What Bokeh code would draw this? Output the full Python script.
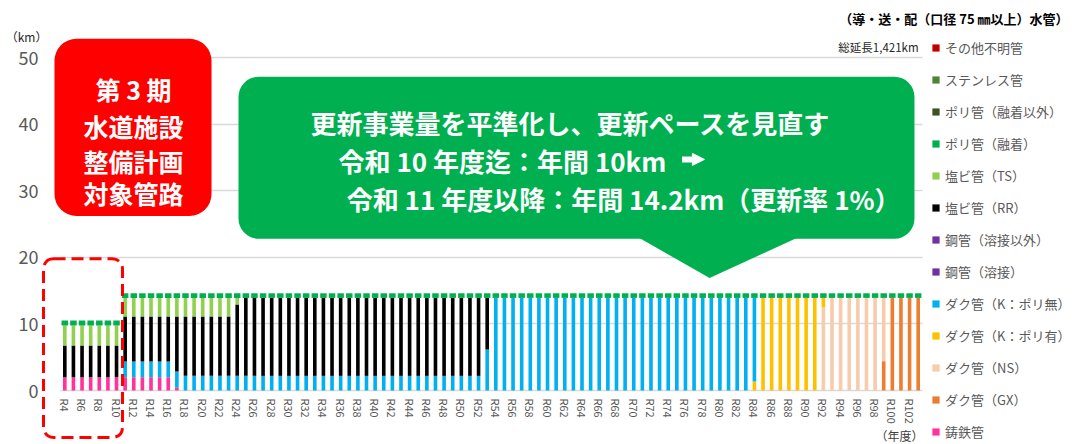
import math
from bokeh.plotting import figure
from bokeh.models import (FixedTicker, Legend, LegendItem, BoxAnnotation,
                          PolyAnnotation, Label, Range1d, Grid, Arrow, NormalHead)
from bokeh.embed import file_html
from bokeh.resources import INLINE

FONT = "Noto Sans CJK JP"

# ---- data (km per year, R4 .. R103) ----
years = list(range(4, 104))
tick_years = list(range(4, 103, 2))
tick_labels = ["R%d" % y for y in tick_years]
y_ticks = [0, 10, 20, 30, 40, 50]

zeros = [0.0] * 100

cast_iron = [2.0, 2.0, 2.0, 2.0, 2.0, 2.0, 2.0, 2.0, 2.0, 2.0,
             2.0, 2.0, 2.0, 0.4, 0, 0, 0, 0, 0, 0,
             0, 0, 0, 0, 0, 0, 0, 0, 0, 0,
             0, 0, 0, 0, 0, 0, 0, 0, 0, 0,
             0, 0, 0, 0, 0, 0, 0, 0, 0, 0,
             0, 0, 0, 0, 0, 0, 0, 0, 0, 0,
             0, 0, 0, 0, 0, 0, 0, 0, 0, 0,
             0, 0, 0, 0, 0, 0, 0, 0, 0, 0,
             0, 0, 0, 0, 0, 0, 0, 0, 0, 0,
             0, 0, 0, 0, 0, 0, 0, 0, 0, 0]
duct_gx = [0, 0, 0, 0, 0, 0, 0, 0, 0, 0,
           0, 0, 0, 0, 0, 0, 0, 0, 0, 0,
           0, 0, 0, 0, 0, 0, 0, 0, 0, 0,
           0, 0, 0, 0, 0, 0, 0, 0, 0, 0,
           0, 0, 0, 0, 0, 0, 0, 0, 0, 0,
           0, 0, 0, 0, 0, 0, 0, 0, 0, 0,
           0, 0, 0, 0, 0, 0, 0, 0, 0, 0,
           0, 0, 0, 0, 0, 0, 0, 0, 0, 0,
           0, 0, 0, 0, 0, 0, 0, 0, 0, 0,
           0, 0, 0, 0, 0, 4.4, 13.9, 13.9, 13.9, 13.9]
duct_ns = [0, 0, 0, 0, 0, 0, 0, 0, 0, 0,
           0, 0, 0, 0, 0, 0, 0, 0, 0, 0,
           0, 0, 0, 0, 0, 0, 0, 0, 0, 0,
           0, 0, 0, 0, 0, 0, 0, 0, 0, 0,
           0, 0, 0, 0, 0, 0, 0, 0, 0, 0,
           0, 0, 0, 0, 0, 0, 0, 0, 0, 0,
           0, 0, 0, 0, 0, 0, 0, 0, 0, 0,
           0, 0, 0, 0, 0, 0, 0, 0, 0, 0,
           0, 0, 0, 0, 0, 0, 0, 0, 12.5, 13.9,
           13.9, 13.9, 13.9, 13.9, 13.9, 9.5, 0, 0, 0, 0]
duct_k_poly = [0, 0, 0, 0, 0, 0, 0, 0, 0, 0,
               0, 0, 0, 0, 0, 0, 0, 0, 0, 0,
               0, 0, 0, 0, 0, 0, 0, 0, 0, 0,
               0, 0, 0, 0, 0, 0, 0, 0, 0, 0,
               0, 0, 0, 0, 0, 0, 0, 0, 0, 0,
               0, 0, 0, 0, 0, 0, 0, 0, 0, 0,
               0, 0, 0, 0, 0, 0, 0, 0, 0, 0,
               0, 0, 0, 0, 0, 0, 0, 0, 0, 0,
               1.35, 13.9, 13.9, 13.9, 13.9, 13.9, 13.9, 13.9, 1.4, 0,
               0, 0, 0, 0, 0, 0, 0, 0, 0, 0]
duct_k_nopoly = [0, 0, 0, 0, 0, 0, 0, 2.35, 2.35, 2.35,
                 2.35, 2.35, 2.35, 2.45, 2.2, 2.2, 2.2, 2.2, 2.2, 2.2,
                 2.2, 2.2, 2.2, 2.2, 2.2, 2.2, 2.2, 2.2, 2.2, 2.2,
                 2.2, 2.2, 2.2, 2.2, 2.2, 2.2, 2.2, 2.2, 2.2, 2.2,
                 2.2, 2.2, 2.2, 2.2, 2.2, 2.2, 2.2, 2.2, 2.2, 6.15,
                 13.9, 13.9, 13.9, 13.9, 13.9, 13.9, 13.9, 13.9, 13.9, 13.9,
                 13.9, 13.9, 13.9, 13.9, 13.9, 13.9, 13.9, 13.9, 13.9, 13.9,
                 13.9, 13.9, 13.9, 13.9, 13.9, 13.9, 13.9, 13.9, 13.9, 13.9,
                 12.55, 0, 0, 0, 0, 0, 0, 0, 0, 0,
                 0, 0, 0, 0, 0, 0, 0, 0, 0, 0]
steel_weld = zeros
steel_other = zeros
pvc_rr = [4.75, 4.75, 4.75, 4.75, 4.75, 4.75, 4.75, 6.75, 6.75, 6.75,
          6.75, 6.75, 6.75, 8.25, 8.9, 8.9, 8.9, 8.9, 8.9, 8.9,
          10.7, 11.7, 11.7, 11.7, 11.7, 11.7, 11.7, 11.7, 11.7, 11.7,
          11.7, 11.7, 11.7, 11.7, 11.7, 11.7, 11.7, 11.7, 11.7, 11.7,
          11.7, 11.7, 11.7, 11.7, 11.7, 11.7, 11.7, 11.7, 11.7, 7.75,
          0, 0, 0, 0, 0, 0, 0, 0, 0, 0,
          0, 0, 0, 0, 0, 0, 0, 0, 0, 0,
          0, 0, 0, 0, 0, 0, 0, 0, 0, 0,
          0, 0, 0, 0, 0, 0, 0, 0, 0, 0,
          0, 0, 0, 0, 0, 0, 0, 0, 0, 0]
pvc_ts = [3.0, 3.0, 3.0, 3.0, 3.0, 3.0, 3.0, 2.8, 2.8, 2.8,
          2.8, 2.8, 2.8, 2.8, 2.8, 2.8, 2.8, 2.8, 2.8, 2.8,
          1.0, 0, 0, 0, 0, 0, 0, 0, 0, 0,
          0, 0, 0, 0, 0, 0, 0, 0, 0, 0,
          0, 0, 0, 0, 0, 0, 0, 0, 0, 0,
          0, 0, 0, 0, 0, 0, 0, 0, 0, 0,
          0, 0, 0, 0, 0, 0, 0, 0, 0, 0,
          0, 0, 0, 0, 0, 0, 0, 0, 0, 0,
          0, 0, 0, 0, 0, 0, 0, 0, 0, 0,
          0, 0, 0, 0, 0, 0, 0, 0, 0, 0]
poly_fused = [0.75, 0.75, 0.75, 0.75, 0.75, 0.75, 0.75, 0.7, 0.7, 0.7,
              0.7, 0.7, 0.7, 0.7, 0.7, 0.7, 0.7, 0.7, 0.7, 0.7,
              0.7, 0.7, 0.7, 0.7, 0.7, 0.7, 0.7, 0.7, 0.7, 0.7,
              0.7, 0.7, 0.7, 0.7, 0.7, 0.7, 0.7, 0.7, 0.7, 0.7,
              0.7, 0.7, 0.7, 0.7, 0.7, 0.7, 0.7, 0.7, 0.7, 0.7,
              0.7, 0.7, 0.7, 0.7, 0.7, 0.7, 0.7, 0.7, 0.7, 0.7,
              0.7, 0.7, 0.7, 0.7, 0.7, 0.7, 0.7, 0.7, 0.7, 0.7,
              0.7, 0.7, 0.7, 0.7, 0.7, 0.7, 0.7, 0.7, 0.7, 0.7,
              0.7, 0.7, 0.7, 0.7, 0.7, 0.7, 0.7, 0.7, 0.7, 0.7,
              0.7, 0.7, 0.7, 0.7, 0.7, 0.7, 0.7, 0.7, 0.7, 0.7]
poly_other = zeros
stainless = zeros
unknown = zeros

# stacking order: bottom -> top
series_keys = ["cast_iron", "duct_gx", "duct_ns", "duct_k_poly", "duct_k_nopoly",
               "steel_weld", "steel_other", "pvc_rr", "pvc_ts", "poly_fused",
               "poly_other", "stainless", "unknown"]
series_vals = [cast_iron, duct_gx, duct_ns, duct_k_poly, duct_k_nopoly,
               steel_weld, steel_other, pvc_rr, pvc_ts, poly_fused,
               poly_other, stainless, unknown]
series_names = ["鋳鉄管", "ダク管（GX）", "ダク管（NS）", "ダク管（K：ポリ有）",
                "ダク管（K：ポリ無）", "鋼管（溶接）", "鋼管（溶接以外）",
                "塩ビ管（RR）", "塩ビ管（TS）", "ポリ管（融着）",
                "ポリ管（融着以外）", "ステンレス管", "その他不明管"]
series_colors = ["#FF3399", "#ED7D31", "#F8CBAD", "#FFC000", "#00B0F0",
                 "#7030A0", "#7030A0", "#000000", "#92D050", "#00B050",
                 "#375623", "#548235", "#C00000"]
bar_widths = [0.42, 0.42, 0.42, 0.42, 0.42, 0.42, 0.42, 0.42, 0.42, 0.75,
              0.42, 0.42, 0.42]

data = {"year": years}
for k, v in zip(series_keys, series_vals):
    data[k] = v

# The plot frame fills the whole canvas; axes are pinned with fixed_location
PX_X = 8.62     # pixels per year
PX_Y = 6.66     # pixels per km
X0_PX, Y0_PX = 60.0, 390.0
x_start = 3.5 - X0_PX / PX_X
y_start = -(444 - Y0_PX) / PX_Y

p = figure(width=1073, height=444, output_backend="svg", toolbar_location=None,
           x_range=Range1d(x_start, x_start + 1073 / PX_X),
           y_range=Range1d(y_start, y_start + 444 / PX_Y),
           min_border=0, min_border_left=0, min_border_right=0,
           min_border_top=0, min_border_bottom=0)
if p.title is not None:
    p.title.visible = False
p.outline_line_color = None
p.border_fill_color = "white"
p.background_fill_color = "white"

renderers = p.vbar_stack(series_keys, x="year", source=data, width=bar_widths,
                         fill_color=series_colors, line_color=None)

# grid
p.xgrid.visible = False
p.ygrid.ticker = FixedTicker(ticks=y_ticks)
p.ygrid.grid_line_color = "#D9D9D9"
p.ygrid.grid_line_width = 1.5
if "cross_bounds" in Grid.properties():
    p.ygrid.cross_bounds = (3.5, 103.5)

# axes
p.yaxis.fixed_location = 3.5
p.yaxis.ticker = FixedTicker(ticks=y_ticks)
p.yaxis.axis_line_color = None
p.yaxis.major_tick_line_color = None
p.yaxis.minor_tick_line_color = None
p.yaxis.major_tick_out = 0
p.yaxis.major_tick_in = 0
p.yaxis.major_label_standoff = 22
p.yaxis.major_label_text_font = FONT
p.yaxis.major_label_text_font_size = "18px"
p.yaxis.major_label_text_color = "#595959"

p.xaxis.fixed_location = 0
p.xaxis.ticker = FixedTicker(ticks=tick_years)
p.xaxis.major_label_overrides = dict(zip(tick_years, tick_labels))
p.xaxis.axis_line_color = None
p.xaxis.major_tick_line_color = None
p.xaxis.minor_tick_line_color = None
p.xaxis.major_tick_out = 0
p.xaxis.major_tick_in = 0
p.xaxis.major_label_standoff = 8
p.xaxis.major_label_orientation = -math.pi / 2
p.xaxis.major_label_text_font = FONT
p.xaxis.major_label_text_font_size = "11px"
p.xaxis.major_label_text_color = "#595959"

# annotations: red box
p.add_layout(BoxAnnotation(left=2.80, right=21.02, top=52.8, bottom=26.2,
                           fill_color="#FF0000", fill_alpha=1.0,
                           line_color=None, border_radius=22))
for txt, yy in [("第 3 期", 45.3), ("水道施設", 39.7), ("整備計画", 34.5), ("対象管路", 29.7)]:
    p.add_layout(Label(x=11.97, y=yy, text=txt, text_align="center",
                       text_baseline="middle", text_font=FONT,
                       text_font_style="bold", text_font_size="25px",
                       text_color="white"))

# green callout
p.add_layout(BoxAnnotation(left=24.15, right=102.57, top=47.1, bottom=22.8,
                           fill_color="#00B050", fill_alpha=1.0,
                           line_color=None, border_radius=20))
p.add_layout(PolyAnnotation(xs=[70.1, 89.6, 78.8], ys=[23.3, 23.3, 16.9],
                            fill_color="#00B050", fill_alpha=1.0,
                            line_color=None))
callout = [("更新事業量を平準化し、更新ペースを見直す", 32.5, 40.2),
           ("令和 10 年度迄：年間 10km", 35.75, 34.5),
           ("令和 11 年度以降：年間 14.2km（更新率 1%）", 36.7, 28.9)]
for txt, xx, yy in callout:
    p.add_layout(Label(x=xx, y=yy, text=txt, text_align="left",
                       text_baseline="middle", text_font=FONT,
                       text_font_style="bold", text_font_size="26px",
                       text_color="white"))
# white block arrow after the first rate line
p.add_layout(Arrow(x_start=75.6, y_start=34.7, x_end=78.2, y_end=34.7,
                   line_color="white", line_width=6,
                   end=NormalHead(size=12, fill_color="white",
                                  line_color="white", line_width=1)))

# red dashed box around R4-R10
p.add_layout(BoxAnnotation(left=1.53, right=10.69, top=19.8, bottom=-7.05,
                           fill_alpha=0, line_color="#FF0000", line_alpha=1.0,
                           line_width=3, line_dash="12 6", border_radius=10))

# other texts
p.add_layout(Label(x=-0.44, y=53.2, text="（km）", text_align="center",
                   text_baseline="middle", text_font=FONT,
                   text_font_size="12px", text_color="#262626"))
p.add_layout(Label(x=120.44, y=55.9, text="（導・送・配（口径 75 ㎜以上）水管）",
                   text_align="right", text_baseline="middle", text_font=FONT,
                   text_font_style="bold", text_font_size="13px",
                   text_color="#000000"))
p.add_layout(Label(x=103.04, y=51.6, text="総延長1,421km", text_align="right",
                   text_baseline="middle", text_font=FONT,
                   text_font_size="11.5px", text_color="#262626"))
p.add_layout(Label(x=100.83, y=-6.7, text="（年度）", text_align="center",
                   text_baseline="middle", text_font=FONT,
                   text_font_size="12px", text_color="#404040"))

# legend (top item = その他不明管)
items = [LegendItem(label=n, renderers=[r])
         for n, r in zip(series_names[::-1], renderers[::-1])]
legend = Legend(items=items, location=(931, 3), padding=0, margin=0,
                spacing=12, label_height=20, glyph_width=9, glyph_height=9,
                label_standoff=5, label_text_font=FONT,
                label_text_font_size="13px", label_text_color="#595959",
                border_line_color=None, background_fill_alpha=0)
p.add_layout(legend)

open("out.html", "w").write(file_html(p, INLINE))
